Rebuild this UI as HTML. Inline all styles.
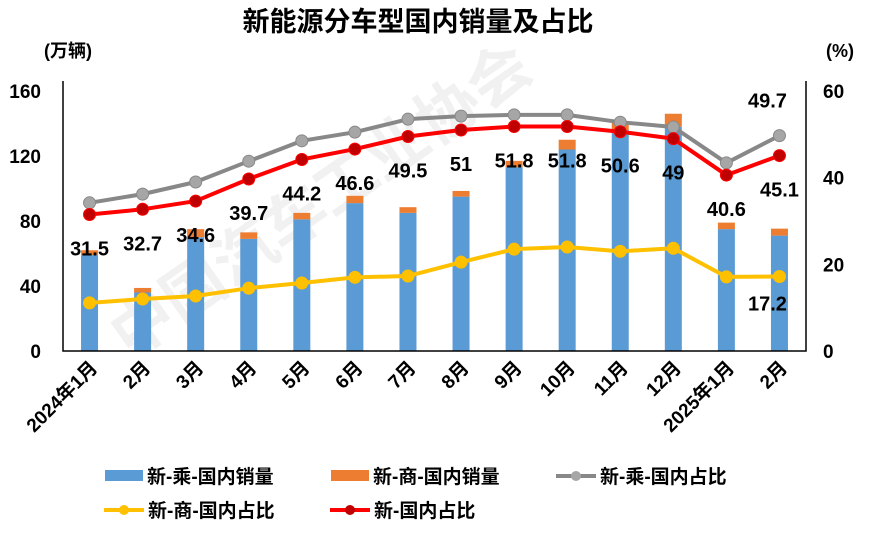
<!DOCTYPE html>
<html><head><meta charset="utf-8">
<style>
body{margin:0;background:#fff;}
svg text{font-family:"Liberation Sans","Noto Sans CJK SC",sans-serif;font-weight:bold;}
</style></head>
<body>
<svg id="chart" width="871" height="535" xmlns="http://www.w3.org/2000/svg">
<text x="418" y="31" font-size="27" text-anchor="middle" fill="#000">新能源分车型国内销量及占比</text>
<text x="44" y="57" font-size="18" fill="#000">(万辆)</text>
<text x="826" y="57" font-size="18" fill="#000">(%)</text>
<g id="wm" opacity="0.05">
<text x="130" y="360" font-size="62" fill="#000" transform="rotate(-35 130 360)">中国汽车工业协会</text>
</g>
<g id="bars"></g><g id="lines"></g><g id="labels"></g><g id="axes"></g>
<g id="legend"></g>
</svg>
<script>
const categories=["2024年1月","2月","3月","4月","5月","6月","7月","8月","9月","10月","11月","12月","2025年1月","2月"];
const passengerSales=[59,36,70,69,81,91,85,95,113,124,136,138,75,71];
const commercialSales=[3,2.8,5,4,4,4.5,3.5,3.5,4,6,5.5,8,4,4.3];
const passengerShare=[34.2,36.2,39,43.8,48.5,50.5,53.5,54.2,54.5,54.5,52.8,51.7,43.4,49.7];
const commercialShare=[11.1,12,12.7,14.5,15.7,17,17.3,20.5,23.5,24,23,23.7,17.1,17.2];
const totalShare=[31.5,32.7,34.6,39.7,44.2,46.6,49.5,51,51.8,51.8,50.6,49,40.6,45.1];
const leftTicks=[0,40,80,120,160];
const rightTicks=[0,20,40,60];

const NS="http://www.w3.org/2000/svg";
const L=63,R=806,T=91,B=351;
const band=(R-L)/categories.length;
const xc=i=>L+band*(i+0.5);
const yl=v=>B-(v/160)*(B-T);
const yr=v=>B-(v/60)*(B-T);
function mk(tag,attrs,parent,txt){const e=document.createElementNS(NS,tag);for(const k in attrs)e.setAttribute(k,attrs[k]);if(txt!==undefined)e.textContent=txt;document.getElementById(parent).appendChild(e);return e;}

categories.forEach((c,i)=>{
  const bw=17;
  const b1=mk('rect',{x:xc(i)-bw/2,y:yl(passengerSales[i]),width:bw,height:B-yl(passengerSales[i]),fill:'#5b9bd5'},'bars');
  
  
  const top=passengerSales[i]+commercialSales[i];
  const b2=mk('rect',{x:xc(i)-bw/2,y:yl(top),width:bw,height:yl(passengerSales[i])-yl(top),fill:'#ed7d31'},'bars');
  
  
});

function series(arr,color,dot,name){
  const pts=arr.map((v,i)=>xc(i)+','+yr(v)).join(' ');
  const pl=mk('polyline',{points:pts,fill:'none',stroke:color,'stroke-width':4,'stroke-linejoin':'round'},'lines');
  
  
  arr.forEach((v,i)=>{
    const c=mk('circle',{cx:xc(i),cy:yr(v),r:6,fill:dot,stroke:color,'stroke-width':1},'lines');
    
    
  });
}
series(commercialShare,'#ffc000','#ffc000','commercial-share');
series(passengerShare,'#888888','#a6a6a6','passenger-share');
series(totalShare,'#ff0000','#c00000','total-share');

totalShare.forEach((v,i)=>{
  const t=mk('text',{x:xc(i),y:yr(v)+41,'font-size':20,'text-anchor':'middle',fill:'#000'},'labels',String(v));
  
  
});
const n=categories.length-1;
const g1=mk('text',{x:xc(n)-12,y:yr(passengerShare[n])-28,'font-size':20,'text-anchor':'middle',fill:'#000'},'labels',String(passengerShare[n]));


const y1=mk('text',{x:xc(n)-12,y:yr(commercialShare[n])+34,'font-size':20,'text-anchor':'middle',fill:'#000'},'labels',String(commercialShare[n]));



const ax=mk('path',{d:`M${L},${T-10} V${B} H${R} V${T-10}`,fill:'none',stroke:'#000','stroke-width':1.5},'axes');


leftTicks.forEach(v=>{
  const t=mk('text',{x:41,y:yl(v)+7,'font-size':19,'text-anchor':'end',fill:'#000'},'axes',String(v));
  
  
});
rightTicks.forEach(v=>{
  const t=mk('text',{x:823,y:yr(v)+7,'font-size':19,'text-anchor':'start',fill:'#000'},'axes',String(v));
  
  
});
categories.forEach((c,i)=>{
  const x=xc(i)+9,y=369;
  const t=mk('text',{x:x,y:y,'font-size':19,'text-anchor':'end',fill:'#000',transform:`rotate(-45 ${x} ${y})`},'axes',c);
  
  
});

function legRect(x,y,color,label){
  const r=mk('rect',{x:x,y:y-6,width:38,height:11,fill:color},'legend');
  
  
  const t=mk('text',{x:x+42,y:y+7,'font-size':19,fill:'#000'},'legend',label);
  
  
}
function legLine(x,y,color,dot,label){
  const l=mk('line',{x1:x,y1:y,x2:x+40,y2:y,stroke:color,'stroke-width':4},'legend');
  
  
  const c=mk('circle',{cx:x+20,cy:y,r:5,fill:dot},'legend');
  
  
  const t=mk('text',{x:x+44,y:y+7,'font-size':19,fill:'#000'},'legend',label);
  
  
}
legRect(105,476,'#5b9bd5','新-乘-国内销量');
legRect(331,476,'#ed7d31','新-商-国内销量');
legLine(556,476,'#888888','#a6a6a6','新-乘-国内占比');
legLine(104,510,'#ffc000','#ffc000','新-商-国内占比');
legLine(330,510,'#ff0000','#c00000','新-国内占比');
</script>
</body></html>
